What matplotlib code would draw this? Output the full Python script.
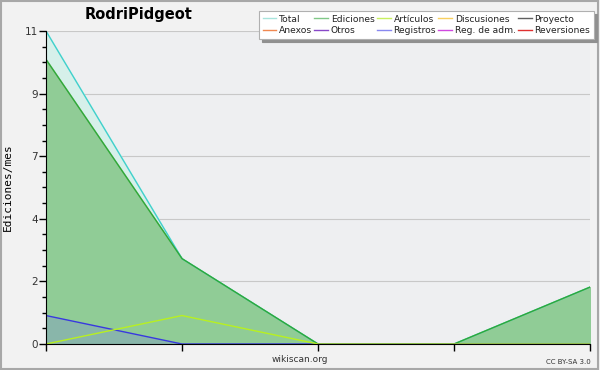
import numpy as np
import matplotlib
matplotlib.use("Agg")
from matplotlib import pyplot as plt
from matplotlib.lines import Line2D
from matplotlib.ticker import FixedLocator, MultipleLocator

months = [0, 1, 2, 3, 4]
total = [11, 3, 0, 0, 2]
ediciones = [10, 3, 0, 0, 2]
articulos = [0, 1, 0, 0, 0]
registros = [1, 0, 0, 0, 0]

legend_names = ["Total", "Anexos", "Ediciones", "Otros", "Artículos",
                "Registros", "Discusiones", "Reg. de adm.", "Proyecto", "Reversiones"]
legend_colors = ["#a8e4dc", "#f08850", "#80c888", "#8848c8", "#c8f060",
                 "#8888f0", "#f8d060", "#d048e0", "#606060", "#e03030"]

fig = plt.figure(figsize=(6, 3.7), dpi=100, facecolor="#f2f2f2")
fig.patches.append(plt.Rectangle((0.002, 0.003), 0.995, 0.993, transform=fig.transFigure,
                                 fill=False, edgecolor="#a8a8a8", lw=1.5))
ax = fig.add_axes([46/600, 26/370, 544/600, 313/370])
ax.set_facecolor("#eeeff1")

x = np.array(months)
ax.fill_between(x, total, color="#d6f0ea", zorder=1)
ax.plot(x, total, color="#40d0cc", lw=1, zorder=4)
ax.fill_between(x, ediciones, color="#90cc96", zorder=2)
ax.plot(x, ediciones, color="#30a838", lw=1, zorder=4)
ax.fill_between(x, registros, color="#7878e8", alpha=0.25, lw=0, zorder=3)
ax.plot(x, registros, color="#3838e0", lw=1, zorder=5)
ax.plot(x, articulos, color="#b8f020", lw=1, zorder=5)

ax.set_xlim(0, 4)
ax.set_ylim(0, 11)
ymaj = [0, 2.2, 4.4, 6.6, 8.8, 11]
ax.yaxis.set_major_locator(FixedLocator(ymaj))
ax.set_yticklabels([str(int(round(v))) for v in ymaj])
ax.yaxis.set_minor_locator(MultipleLocator(0.55))
ax.set_xticks(months)
ax.set_xticklabels([])
ax.grid(axis="y", color="#c8c8c8", lw=0.8, zorder=0)
ax.set_axisbelow(True)
for s in ["top", "right"]:
    ax.spines[s].set_visible(False)
ax.spines["left"].set_zorder(6)
ax.spines["bottom"].set_zorder(6)
ax.tick_params(axis="both", which="major", length=5, width=1, labelsize=7.5, colors="black",
               labelcolor="#333333", pad=1)
ax.tick_params(axis="y", which="minor", length=3, width=1)
ax.set_ylabel("Ediciones/mes", fontsize=8, family="DejaVu Sans Mono", labelpad=8)

fig.text(139/600, 1 - 14/370, "RodriPidgeot", fontsize=10.5, fontweight="bold",
         ha="center", va="center")
fig.text(300/600, 1 - 360/370, "wikiscan.org", fontsize=6.5, ha="center", va="center",
         color="#333333")
fig.text(568/600, 1 - 362/370, "CC BY-SA 3.0", fontsize=5, ha="center", va="center",
         color="#333333")

handles = [Line2D([], [], color=c, lw=1) for c in legend_colors]
leg = fig.legend(handles, legend_names, ncol=5, loc="upper right",
                 bbox_to_anchor=(594/600, 1 - 11/370), fontsize=6.6, frameon=True,
                 fancybox=False, shadow={"color": "#909090", "alpha": 1},
                 handlelength=1.5, handletextpad=0.3,
                 columnspacing=0.25, labelspacing=0.3, borderpad=0.4, borderaxespad=0,
                 labelcolor="#222222")
leg.get_frame().set_edgecolor("#b0b0b0")
leg.get_frame().set_linewidth(0.8)

fig.savefig("out.png", dpi=100, facecolor=fig.get_facecolor())
